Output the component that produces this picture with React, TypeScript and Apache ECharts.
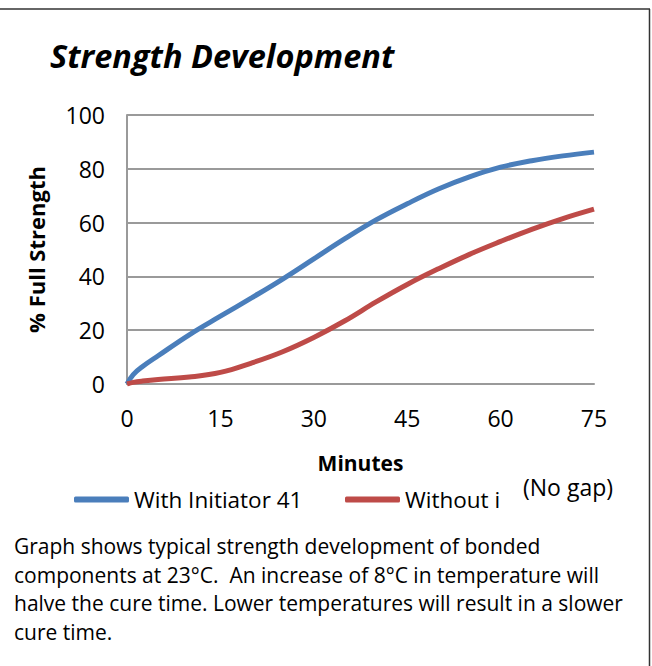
import React, { useEffect, useRef } from "react";
import * as echarts from "echarts";

const minutes = [0, 1, 2.5, 5, 10, 15, 20, 25, 30, 35, 40, 45, 50, 55, 60, 65, 70, 75];
const withInitiator = [0, 3.5, 6.5, 10.5, 18.3, 25.2, 32, 39, 46.5, 54, 61, 67, 72.5, 77, 80.6, 83, 84.8, 86.2];
const withoutInitiator = [0, 0.6, 1.1, 1.7, 2.6, 4.3, 7.8, 12, 17.3, 23.5, 30.5, 37, 42.8, 48.2, 53, 57.5, 61.5, 65];
const seriesNames = ["With Initiator 41", "Without initiator"];
const titleText = "Strength Development";
const xName = "Minutes";
const yName = "% Full Strength";
const noteText = "(No gap)";
const bodyLines = [
  "Graph shows typical strength development of bonded",
  "components at 23°C.  An increase of 8°C in temperature will",
  "halve the cure time. Lower temperatures will result in a slower",
  "cure time.",
];

const FONT = "Open Sans";
const BLUE = "#4a7ebb";
const RED = "#be4b48";

export default function App() {
  const ref = useRef<HTMLDivElement>(null);
  useEffect(() => {
    if (!ref.current) return;
    const chart = echarts.init(ref.current, undefined, { renderer: "svg" });
    const pairs = (ys: number[]) => minutes.map((m, i) => [m, ys[i]]);
    chart.setOption({
      animation: false,
      backgroundColor: "#ffffff",
      title: {
        text: titleText,
        left: 45,
        top: 34,
        textStyle: { fontFamily: FONT, fontSize: 32.5, fontWeight: "bold", fontStyle: "italic", color: "#000" },
      },
      grid: { left: 127, right: 58, top: 115, bottom: 282 },
      xAxis: {
        type: "value",
        min: 0,
        max: 75,
        interval: 15,
        name: xName,
        nameLocation: "middle",
        nameGap: 68,
        nameTextStyle: { fontFamily: FONT, fontSize: 21, fontWeight: "bold", color: "#000" },
        axisLine: { show: true, lineStyle: { color: "#9a9a9a", width: 2 } },
        axisTick: { show: false },
        splitLine: { show: false },
        axisLabel: { fontFamily: FONT, fontSize: 23, color: "#000", margin: 22 },
      },
      yAxis: {
        type: "value",
        min: 0,
        max: 100,
        interval: 20,
        name: yName,
        nameLocation: "middle",
        nameRotate: 90,
        nameGap: 80,
        nameTextStyle: { fontFamily: FONT, fontSize: 22, fontWeight: "bold", color: "#000" },
        axisLine: { show: true, lineStyle: { color: "#9a9a9a", width: 2 } },
        axisTick: { show: false },
        splitLine: { show: true, lineStyle: { color: "#9a9a9a", width: 2 } },
        axisLabel: { fontFamily: FONT, fontSize: 23, color: "#000", margin: 22 },
      },
      legend: [
        {
          data: [{ name: seriesNames[0] }],
          left: 69,
          top: 483,
          icon: "roundRect",
          itemWidth: 55,
          itemHeight: 6,
          itemGap: 3,
          textStyle: { fontFamily: FONT, fontSize: 22.5, color: "#000" },
        },
        {
          data: [{ name: seriesNames[1] }],
          left: 340,
          top: 483,
          icon: "roundRect",
          itemWidth: 55,
          itemHeight: 6,
          itemGap: 3,
          textStyle: { fontFamily: FONT, fontSize: 22.5, color: "#000", width: 100, overflow: "truncate", ellipsis: "" },
        },
      ],
      series: [
        {
          name: seriesNames[0],
          type: "line",
          data: pairs(withInitiator),
          smooth: 0.4,
          showSymbol: false,
          symbol: "none",
          lineStyle: { color: BLUE, width: 5 },
          itemStyle: { color: BLUE },
        },
        {
          name: seriesNames[1],
          type: "line",
          data: pairs(withoutInitiator),
          smooth: 0.4,
          showSymbol: false,
          symbol: "none",
          lineStyle: { color: RED, width: 5 },
          itemStyle: { color: RED },
        },
      ],
      graphic: [
        { type: "line", shape: { x1: 0, y1: 9, x2: 650, y2: 9 }, style: { stroke: "#333", lineWidth: 1.5 } },
        { type: "line", shape: { x1: 649.5, y1: 9, x2: 649.5, y2: 666 }, style: { stroke: "#333", lineWidth: 1.5 } },
        {
          type: "text",
          x: 523,
          y: 487,
          style: { text: noteText, fontFamily: FONT, fontSize: 23, fill: "#000", verticalAlign: "middle", align: "left" },
        },
        {
          type: "text",
          x: 14,
          y: 532,
          style: {
            text: bodyLines.join("\n"),
            fontFamily: FONT,
            fontSize: 21,
            lineHeight: 28.5,
            fill: "#000",
            verticalAlign: "top",
            align: "left",
          },
        },
      ],
    });
    return () => chart.dispose();
  }, []);
  return (
    <div
      ref={ref}
      style={{ position: "fixed", left: 0, top: 0, width: 652, height: 666, background: "#fff" }}
    />
  );
}
